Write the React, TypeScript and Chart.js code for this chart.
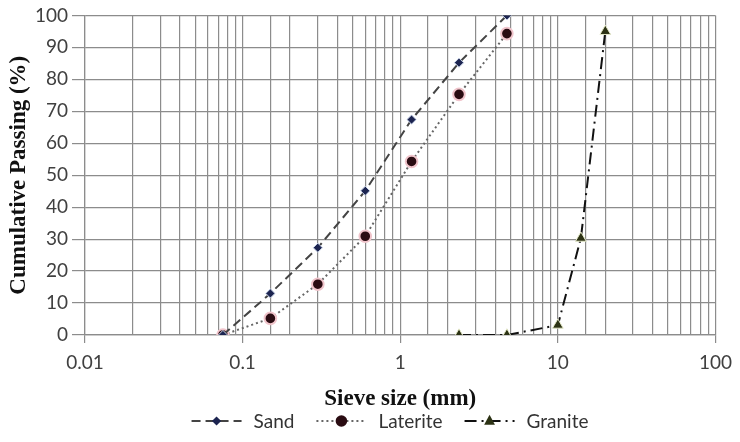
import React, { useEffect, useRef } from "react";
import { Chart, registerables } from "chart.js";

Chart.register(...registerables);

const fineSieves = [0.075, 0.15, 0.3, 0.6, 1.18, 2.36, 4.75];
const sandPassing = [0, 13, 27.3, 45.1, 67.4, 85.2, 100];
const lateritePassing = [0, 5.2, 15.9, 30.9, 54.3, 75.3, 94.3];
const graniteSieves = [2.36, 4.75, 10, 14, 20];
const granitePassing = [0, 0, 3.1, 30.3, 95];
const seriesNames = ["Sand", "Laterite", "Granite"];
const xTickLabels = ["0.01", "0.1", "1", "10", "100"];

const TICK_FONT = "Lato";
const TITLE_FONT = "'Liberation Serif', 'Times New Roman', serif";
const GRID = "#8c8c8c";

const styles = [
  { line: "#444444", dash: [9, 5], width: 2, marker: "rectRot", r: 4.6, fill: "#1c2450", border: "#c9d4e8", bw: 1 },
  { line: "#666666", dash: [2, 3], width: 2, marker: "circle", r: 5.8, fill: "#2a0c12", border: "#f0c4cb", bw: 2 },
  { line: "#111111", dash: [12, 5, 2, 5], width: 2, marker: "triangle", r: 6.2, fill: "#2c3214", border: "#e4e8c8", bw: 1 },
];

const legendPlugin = {
  id: "customLegend",
  afterDraw(chart: any) {
    const ctx = chart.ctx;
    ctx.save();
    ctx.font = `19px ${TICK_FONT}`;
    const symW = 50;
    const gapSym = 12;
    const gapItem = 22;
    const widths = seriesNames.map((n) => symW + gapSym + ctx.measureText(n).width);
    const total = widths.reduce((a, b) => a + b, 0) + gapItem * (seriesNames.length - 1);
    let x = 390 - total / 2;
    const y = 421;
    seriesNames.forEach((name, i) => {
      const s = styles[i];
      ctx.strokeStyle = s.line;
      ctx.lineWidth = s.width;
      ctx.setLineDash(s.dash);
      ctx.beginPath();
      ctx.moveTo(x, y);
      ctx.lineTo(x + symW, y);
      ctx.stroke();
      ctx.setLineDash([]);
      const cx = x + symW / 2;
      ctx.fillStyle = s.fill;
      ctx.beginPath();
      const r = s.r;
      if (s.marker === "circle") {
        ctx.arc(cx, y, r, 0, Math.PI * 2);
      } else if (s.marker === "rectRot") {
        ctx.moveTo(cx, y - r);
        ctx.lineTo(cx + r, y);
        ctx.lineTo(cx, y + r);
        ctx.lineTo(cx - r, y);
        ctx.closePath();
      } else {
        ctx.moveTo(cx, y - r);
        ctx.lineTo(cx + r * 0.87, y + r * 0.6);
        ctx.lineTo(cx - r * 0.87, y + r * 0.6);
        ctx.closePath();
      }
      ctx.fill();
      ctx.fillStyle = "#333";
      ctx.textBaseline = "middle";
      ctx.textAlign = "left";
      ctx.fillText(name, x + symW + gapSym, y + 1);
      x += widths[i] + gapItem;
    });
    ctx.restore();
  },
};

function isMajor(v: number) {
  const l = Math.log10(v);
  return Math.abs(l - Math.round(l)) < 1e-6;
}

export default function App() {
  const ref = useRef<HTMLCanvasElement>(null);
  useEffect(() => {
    if (!ref.current) return;
    const mk = (xs: number[], ys: number[]) => xs.map((x, i) => ({ x, y: ys[i] }));
    const dataSets = [
      mk(fineSieves, sandPassing),
      mk(fineSieves, lateritePassing),
      mk(graniteSieves, granitePassing),
    ];
    const chart = new Chart(ref.current, {
      type: "scatter",
      data: {
        datasets: seriesNames.map((name, i) => ({
          label: name,
          data: dataSets[i],
          showLine: true,
          borderColor: styles[i].line,
          borderWidth: styles[i].width,
          borderDash: styles[i].dash,
          pointStyle: styles[i].marker,
          pointRadius: styles[i].r,
          pointBackgroundColor: styles[i].fill,
          pointBorderColor: styles[i].border,
          pointBorderWidth: styles[i].bw,
          tension: 0,
        })),
      },
      options: {
        animation: false,
        responsive: false,
        layout: { padding: { left: 0, right: 22, top: 15, bottom: 27 } },
        plugins: { legend: { display: false }, tooltip: { enabled: false } },
        scales: {
          x: {
            type: "logarithmic",
            min: 0.01,
            max: 100,
            afterFit: (s: any) => {
              s.height = 80;
            },
            grid: {
              color: GRID,
              lineWidth: 1.2,
              drawTicks: true,
              tickLength: 8,
              tickColor: (c: any) => (c.tick && isMajor(c.tick.value) ? GRID : "rgba(0,0,0,0)"),
            },
            border: { color: GRID, width: 1.2 },
            ticks: {
              autoSkip: false,
              maxRotation: 0,
              padding: 8,
              color: "#404040",
              font: { family: TICK_FONT, size: 19 },
              callback: (v: any) => {
                const n = Number(v);
                if (!isMajor(n)) return "";
                const idx = Math.round(Math.log10(n)) + 2;
                return xTickLabels[idx] ?? "";
              },
            },
            title: {
              display: true,
              text: "Sieve size (mm)",
              color: "#111",
              font: { family: TITLE_FONT, size: 23, weight: "bold" },
              padding: { top: 0, bottom: 2 },
            },
          },
          y: {
            min: 0,
            max: 100,
            afterFit: (s: any) => {
              s.width = 85;
            },
            grid: { color: GRID, lineWidth: 1.2, tickLength: 13 },
            border: { color: GRID, width: 1.2 },
            ticks: {
              stepSize: 10,
              padding: 4,
              color: "#404040",
              font: { family: TICK_FONT, size: 19 },
            },
            title: {
              display: true,
              text: "Cumulative Passing (%)",
              color: "#111",
              font: { family: TITLE_FONT, size: 23, weight: "bold" },
              padding: { top: 5, bottom: 0 },
            },
          },
        },
      } as any,
      plugins: [legendPlugin],
    });
    return () => chart.destroy();
  }, []);
  return (
    <div style={{ position: "absolute", left: 0, top: 0, width: 740, height: 442, background: "#fff" }}>
      <canvas ref={ref} width={740} height={442} style={{ width: 740, height: 442 }} />
    </div>
  );
}
